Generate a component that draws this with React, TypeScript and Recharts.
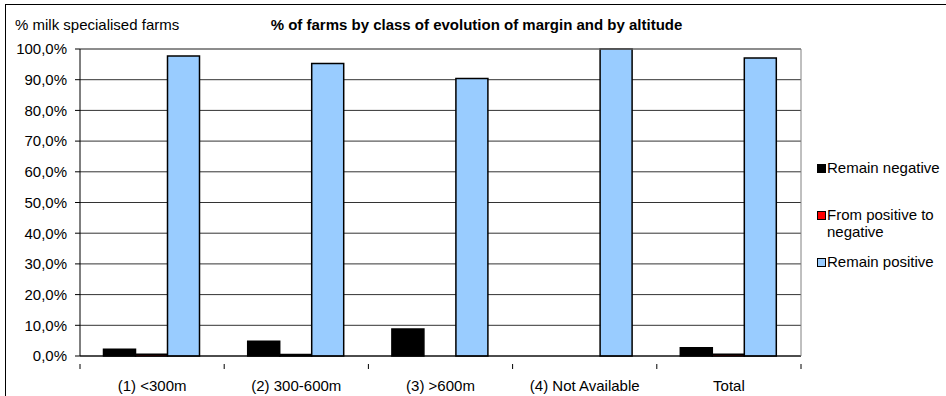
import React from 'react';
import { BarChart, Bar, XAxis, YAxis, CartesianGrid, Legend, ReferenceLine } from 'recharts';

const categories = ['(1) <300m', '(2) 300-600m', '(3) >600m', '(4) Not Available', 'Total'];
const remainNegative = [2.2, 4.8, 8.8, 0, 2.7];
const positiveToNegative = [0.6, 0.5, 0, 0, 0.6];
const remainPositive = [97.7, 95.3, 90.4, 100, 97.1];
const yTicks = [0, 10, 20, 30, 40, 50, 60, 70, 80, 90, 100];

const seriesNames = ['Remain negative', 'From positive to negative', 'Remain positive'];
const seriesColors = ['#000000', '#FF0000', '#99CCFF'];

const data = categories.map((c, i) => ({
  name: c,
  neg: remainNegative[i],
  posneg: positiveToNegative[i],
  pos: remainPositive[i],
}));

const FONT = '"Liberation Sans", Arial, sans-serif';
const W = 946;
const H = 396;
const M = { top: 49, right: 144, bottom: 10, left: 5 };
const Y_AXIS_W = 75;
const X_AXIS_H = 30;
const plotW = W - M.left - M.right - Y_AXIS_W - 1;
const band = plotW / categories.length;

const fmt = (v: number) => v.toFixed(1).replace('.', ',') + '%';

const XTick = (props: any) => {
  const { x, y, payload, index } = props;
  const left = x - band / 2;
  return (
    <g>
      <line x1={left} y1={y} x2={left} y2={y + 5} stroke="#000" />
      {index === categories.length - 1 && (
        <line x1={left + band} y1={y} x2={left + band} y2={y + 5} stroke="#000" />
      )}
      <text x={x} y={y + 27} textAnchor="middle" fontFamily={FONT} fontSize={15} fill="#000">
        {payload.value}
      </text>
    </g>
  );
};

const LegendContent = () => {
  const tops = [4, 51, 98];
  return (
    <div style={{ position: 'relative', width: 129, height: 130, fontFamily: FONT, fontSize: 15, color: '#000' }}>
      {seriesNames.map((name, i) => (
        <div key={i} style={{ position: 'absolute', left: 0, top: tops[i], display: 'flex', alignItems: 'flex-start' }}>
          <div style={{ width: 7, height: 7, marginTop: 5, background: seriesColors[i], border: '1px solid #000', flex: 'none' }} />
          <div style={{ width: 118, marginLeft: 1, lineHeight: '17px' }}>{name}</div>
        </div>
      ))}
    </div>
  );
};

export default function App() {
  return (
    <div style={{ position: 'absolute', left: 0, top: 0, width: W, height: H, background: '#fff' }}>
      <div style={{ position: 'absolute', left: 5, top: 4, width: W, height: H, borderLeft: '1px solid #000', borderTop: '1px solid #000', boxSizing: 'border-box' }} />
      <div style={{ position: 'absolute', left: 15, top: 16, fontFamily: FONT, fontSize: 15, color: '#000', lineHeight: '18px' }}>
        % milk specialised farms
      </div>
      <div style={{ position: 'absolute', left: 0, width: 953, top: 16, textAlign: 'center', fontFamily: FONT, fontSize: 15, fontWeight: 'bold', color: '#000', lineHeight: '18px' }}>
        % of farms by class of evolution of margin and by altitude
      </div>
      <div style={{ position: 'absolute', left: 0, top: 0 }}>
        <BarChart
          width={W}
          height={H}
          data={data}
          margin={M}
          barCategoryGap="16.3%"
          barGap={0}
        >
          <CartesianGrid horizontal vertical={false} stroke="#333" />
          <XAxis
            dataKey="name"
            height={X_AXIS_H}
            axisLine={{ stroke: '#000' }}
            tickLine={false}
            tick={<XTick />}
            interval={0}
          />
          <YAxis
            width={Y_AXIS_W}
            domain={[0, 100]}
            ticks={yTicks}
            tickFormatter={fmt}
            axisLine={{ stroke: '#000' }}
            tickLine={{ stroke: '#000' }}
            tickSize={5}
            tickMargin={8}
            tick={{ fontFamily: FONT, fontSize: 15, fill: '#000' }}
            interval={0}
          />
          <YAxis
            yAxisId="right"
            orientation="right"
            width={1}
            axisLine={{ stroke: '#808080' }}
            tick={false}
            tickLine={false}
          />
          <ReferenceLine y={100} stroke="#808080" />
          <Legend
            layout="horizontal"
            verticalAlign="middle"
            align="center"
            content={<LegendContent />}
            wrapperStyle={{ left: 817, top: 155, width: 129 }}
          />
          <Bar dataKey="neg" name={seriesNames[0]} fill={seriesColors[0]} stroke="#000" strokeWidth={1.5} isAnimationActive={false} />
          <Bar dataKey="posneg" name={seriesNames[1]} fill={seriesColors[1]} stroke="#000" strokeWidth={1.5} isAnimationActive={false} />
          <Bar dataKey="pos" name={seriesNames[2]} fill={seriesColors[2]} stroke="#000" strokeWidth={1.5} isAnimationActive={false} />
        </BarChart>
      </div>
    </div>
  );
}
